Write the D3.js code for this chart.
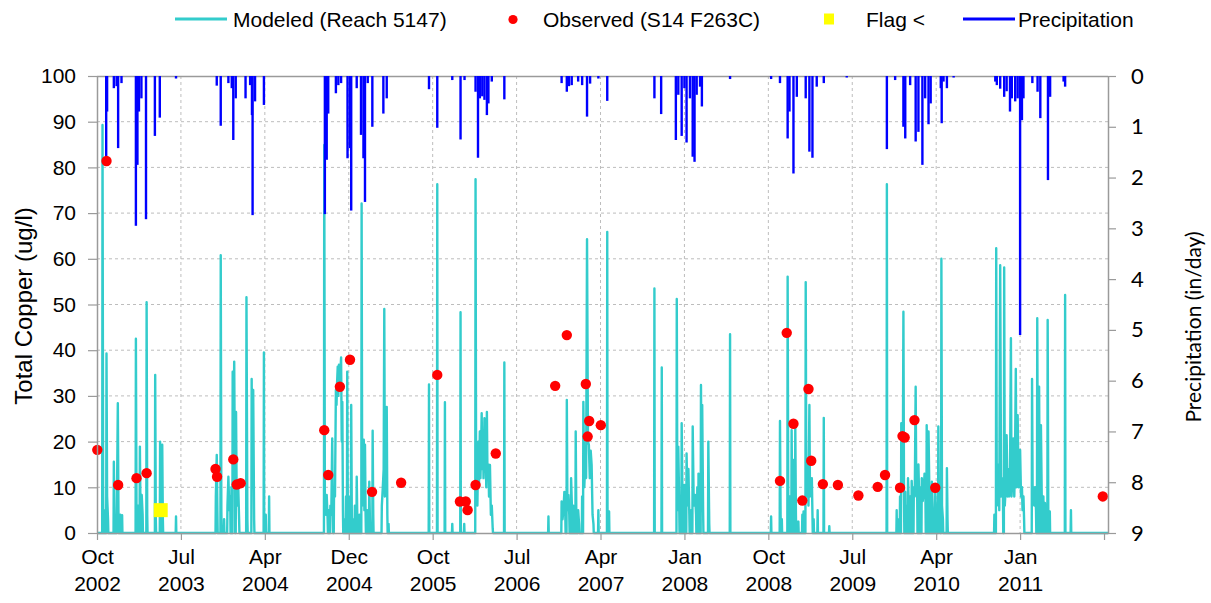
<!DOCTYPE html>
<html>
<head>
<meta charset="utf-8">
<script src="https://cdn.jsdelivr.net/npm/d3@7/dist/d3.min.js"></script>
<style>
  html, body { margin: 0; padding: 0; background: #ffffff; }
  svg text { font-family: "Liberation Sans", Arial, sans-serif; fill: #000; }
  .sec text, text.sec { font-family: Lato, "Open Sans", sans-serif; }
</style>
</head>
<body>
<svg id="chart" width="1211" height="603"></svg>
<script>
// ---- data -------------------------------------------------------------
// Modeled daily total copper (ug/l): peaks and in-between values of the storm responses
const modeled = [
  ["2002-10-19",89.3],["2002-10-21",10],["2002-10-25",5],["2002-11-01",39.3],["2002-11-03",8],["2002-11-06",3],
  ["2002-11-25",15.6],["2002-11-27",3],["2002-12-05",6],["2002-12-08",28.4],["2002-12-10",5],["2002-12-16",4],["2002-12-22",3.9],
  ["2003-02-05",42.5],["2003-02-07",5],["2003-02-12",6],["2003-02-18",18.9],["2003-02-20",5],["2003-02-24",8.3],["2003-02-27",4],
  ["2003-03-12",50.5],["2003-03-14",4],["2003-04-09",34.6],["2003-04-11",3],["2003-04-25",20],["2003-04-27",4],["2003-05-02",19.3],["2003-05-04",3],
  ["2003-06-16",3.6],
  ["2003-10-24",8],["2003-10-27",17.1],["2003-10-29",5],["2003-11-09",60.8],["2003-11-11",5],["2003-11-20",3],
  ["2003-12-01",6],["2003-12-04",12.3],["2003-12-07",5],["2003-12-10",8],["2003-12-14",10],["2003-12-18",35.3],["2003-12-20",12],
  ["2003-12-23",37.5],["2003-12-25",15],["2003-12-29",26.5],["2003-12-31",8],["2004-01-02",6],["2004-01-05",10.5],["2004-01-08",3],
  ["2004-02-01",51.6],["2004-02-04",3],["2004-02-18",33.7],["2004-02-20",10],["2004-02-23",31.3],["2004-02-26",3],
  ["2004-03-29",39.5],["2004-04-04",4],["2004-04-15",8],
  ["2004-10-12",84.9],["2004-10-14",6],["2004-10-17",4],["2004-10-20",8.3],["2004-10-23",3],["2004-10-27",5],["2004-11-01",6],["2004-11-04",4],
  ["2004-11-07",20.7],["2004-11-09",5],["2004-11-13",10],["2004-11-16",8],["2004-11-19",31.3],["2004-11-21",28],["2004-11-23",33],
  ["2004-11-25",36.4],["2004-11-27",30],["2004-11-29",36.8],["2004-12-01",32],["2004-12-03",34],["2004-12-06",38.4],["2004-12-08",20],
  ["2004-12-10",28.7],["2004-12-12",5],["2004-12-16",3],["2004-12-22",8],["2004-12-26",35.3],["2004-12-28",5],["2005-01-01",3],
  ["2005-01-04",8],["2005-01-08",28],["2005-01-10",4],["2005-01-14",3],["2005-01-20",6],["2005-01-26",12.3],["2005-01-28",3],
  ["2005-02-04",4],["2005-02-11",72.1],["2005-02-13",6],["2005-02-15",8],["2005-02-18",20.4],["2005-02-20",5],["2005-02-22",19.3],
  ["2005-02-24",4],["2005-03-01",5],["2005-03-08",11.2],["2005-03-10",3],["2005-03-19",22.4],["2005-03-21",4],
  ["2005-04-18",6],["2005-04-21",9.8],["2005-04-24",14],["2005-04-26",49],["2005-04-28",8],["2005-05-01",12],["2005-05-04",27.6],
  ["2005-05-06",4],["2005-05-10",2],
  ["2005-09-19",32.5],["2005-10-16",76.3],["2005-11-10",28.6],["2005-12-04",2],["2005-12-31",48.3],["2006-01-12",2],
  ["2006-02-18",77.4],["2006-02-20",8],["2006-02-22",15],["2006-02-24",6],["2006-02-27",20],["2006-03-01",10],["2006-03-04",22.2],
  ["2006-03-06",12],["2006-03-08",18],["2006-03-10",26.2],["2006-03-12",14],["2006-03-14",22],["2006-03-16",12],["2006-03-19",25.1],
  ["2006-03-21",14],["2006-03-23",18],["2006-03-25",10],["2006-03-27",26.5],["2006-03-29",12],["2006-04-01",15],["2006-04-03",8],
  ["2006-04-06",14.9],["2006-04-09",4],["2006-04-12",6],["2006-04-15",1],
  ["2006-05-23",37.3],["2006-10-14",3.6],
  ["2006-11-26",6.9],["2006-11-29",3],["2006-12-02",5],["2006-12-05",9],["2006-12-08",4],["2006-12-13",29.1],["2006-12-15",5],
  ["2006-12-18",8.3],["2006-12-21",4],["2006-12-27",12],["2006-12-30",5],["2007-01-03",6],["2007-01-11",22.2],["2007-01-13",4],
  ["2007-01-19",5],["2007-01-22",2],["2007-02-01",8],["2007-02-05",28.7],["2007-02-08",10],["2007-02-11",15],["2007-02-14",12],
  ["2007-02-17",64.3],["2007-02-20",20],["2007-02-23",19.3],["2007-02-26",12],["2007-03-01",18],["2007-03-04",14.9],["2007-03-07",4],
  ["2007-03-10",2],["2007-03-26",5],["2007-04-24",65.9],["2007-04-30",4.7],
  ["2007-09-25",53.5],["2007-10-19",36.2],
  ["2007-12-07",51.2],["2007-12-09",5],["2007-12-12",18.9],["2007-12-15",6],["2007-12-19",8],["2007-12-23",24],["2007-12-26",5],
  ["2008-01-01",10.5],["2008-01-04",4],["2008-01-08",17.4],["2008-01-11",6],["2008-01-14",14],["2008-01-17",4],["2008-01-23",5],
  ["2008-01-28",23.3],["2008-01-31",8],["2008-02-02",6],["2008-02-05",8.3],["2008-02-08",4],["2008-02-12",10],["2008-02-16",13],
  ["2008-02-19",6],["2008-02-24",32.4],["2008-02-26",12],["2008-02-28",28],["2008-03-02",5],["2008-03-19",20],["2008-03-22",2],
  ["2008-05-29",43.5],["2008-10-10",3.6],
  ["2008-11-08",24.5],["2008-11-10",4],["2008-11-14",3],["2008-12-03",56.1],["2008-12-05",6],["2008-12-10",8],["2008-12-16",22.5],
  ["2008-12-18",5],["2008-12-22",16],["2008-12-24",6],["2008-12-28",22.9],["2008-12-30",4],["2009-01-07",2.5],["2009-01-20",4],
  ["2009-01-24",4.7],["2009-01-31",54.9],["2009-02-02",8],["2009-02-05",10],["2009-02-07",15.6],["2009-02-09",6],["2009-02-12",28],
  ["2009-02-14",8],["2009-02-17",10],["2009-02-20",12],["2009-02-22",4],["2009-02-26",3],["2009-03-11",5],["2009-03-31",25.2],
  ["2009-04-18",1.5],
  ["2009-10-23",76.3],["2009-11-24",5],["2009-12-01",3],["2009-12-05",8],["2009-12-09",24],["2009-12-11",10],["2009-12-14",12],
  ["2009-12-16",48.4],["2009-12-18",8],["2009-12-22",9],["2009-12-26",6],["2009-12-31",12],["2010-01-03",5],["2010-01-07",8],
  ["2010-01-12",11.4],["2010-01-15",6],["2010-01-19",10],["2010-01-22",8],["2010-01-25",32],["2010-01-27",10],["2010-01-30",8],
  ["2010-02-03",15],["2010-02-06",6],["2010-02-10",10],["2010-02-14",12],["2010-02-17",7],["2010-02-20",9],["2010-02-23",13],
  ["2010-02-26",7],["2010-03-02",23.6],["2010-03-04",10],["2010-03-08",22.2],["2010-03-11",8],["2010-03-15",10],["2010-03-19",11.2],
  ["2010-03-22",5],["2010-03-26",3],["2010-03-30",9],["2010-04-02",3],["2010-04-09",23.3],["2010-04-11",5],["2010-04-14",3],
  ["2010-04-19",60],["2010-04-21",6],["2010-04-24",3],["2010-05-07",14.2],["2010-05-09",3],
  ["2010-10-09",4],["2010-10-15",62.3],["2010-10-17",6],["2010-10-20",10],["2010-10-23",15],["2010-10-25",5],["2010-10-28",58.6],
  ["2010-10-31",8],["2010-11-03",12],["2010-11-06",8],["2010-11-10",58.1],["2010-11-12",6],["2010-11-15",10],["2010-11-18",21.4],
  ["2010-11-21",8],["2010-11-23",14],["2010-11-26",8],["2010-11-29",12],["2010-12-02",42.6],["2010-12-04",8],["2010-12-07",12],
  ["2010-12-10",20.7],["2010-12-13",8],["2010-12-15",14],["2010-12-18",35.9],["2010-12-20",10],["2010-12-22",14],["2010-12-24",25.8],
  ["2010-12-27",10],["2010-12-29",12],["2011-01-01",18.2],["2011-01-04",8],["2011-01-07",10],["2011-01-09",5],["2011-01-12",8],
  ["2011-01-14",3],["2011-02-09",33.7],["2011-02-11",8],["2011-02-14",10],["2011-02-16",6],["2011-02-19",10],["2011-02-22",5],
  ["2011-02-26",47],["2011-02-28",10],["2011-03-04",32],["2011-03-06",8],["2011-03-10",23.6],["2011-03-13",6],["2011-03-18",8],
  ["2011-03-23",6.6],["2011-03-26",4],["2011-04-01",46.6],["2011-04-03",5],["2011-04-08",4.7],["2011-05-28",52.1],["2011-06-16",5]
];

// Observed total copper samples (ug/l)
const observed = [
  ["2002-10-02",18.2],["2002-11-01",81.4],["2002-12-09",10.5],["2003-02-07",12.0],["2003-03-12",13.1],
  ["2003-10-23",14.0],["2003-10-28",12.3],["2003-12-20",16.1],["2003-12-31",10.6],["2004-01-13",10.9],
  ["2004-10-12",22.5],["2004-10-25",12.7],["2004-12-02",32.0],["2005-01-04",37.9],["2005-03-17",9.0],
  ["2005-06-20",11.0],["2005-10-16",34.6],["2005-12-29",6.9],["2006-01-17",6.9],["2006-01-23",5.0],
  ["2006-02-18",10.5],["2006-04-25",17.4],["2006-11-05",32.2],["2006-12-13",43.3],["2007-02-13",32.6],
  ["2007-02-19",21.1],["2007-02-24",24.5],["2007-04-03",23.6],["2008-11-08",11.4],["2008-11-30",43.8],
  ["2008-12-22",23.9],["2009-01-20",7.1],["2009-02-09",31.5],["2009-02-18",15.8],["2009-03-28",10.7],
  ["2009-05-16",10.5],["2009-07-22",8.2],["2009-09-23",10.1],["2009-10-17",12.7],["2009-12-05",9.9],
  ["2009-12-13",21.2],["2009-12-20",20.9],["2010-01-21",24.7],["2010-03-30",9.9],["2011-09-28",8.0]
];

// Sample reported below detection limit (ug/l)
const flagged = [["2003-04-27",5.0]];

// Daily precipitation (in/day)
const precipitation = [
  ["2002-10-31",1.65],["2002-11-03",0.70],["2002-11-25",0.24],["2002-12-04",0.20],["2002-12-09",1.42],["2002-12-20",0.14],
  ["2003-02-05",2.95],["2003-02-10",1.75],["2003-02-15",0.70],["2003-02-23",0.44],["2003-03-10",2.82],["2003-04-08",1.18],
  ["2003-04-24",0.82],["2003-06-16",0.05],
  ["2003-10-27",0.19],["2003-11-09",0.98],["2003-12-04",0.14],["2003-12-15",0.24],["2003-12-20",1.26],["2003-12-28",0.44],
  ["2004-01-29",0.44],["2004-02-13",0.18],["2004-02-19",0.77],["2004-02-21",2.74],["2004-02-29",0.50],["2004-03-29",0.57],
  ["2004-10-14",2.72],["2004-10-20",1.65],["2004-10-25",0.74],["2004-11-19",0.34],["2004-11-27",0.18],["2004-12-06",0.14],
  ["2004-12-27",1.62],["2005-01-04",1.42],["2005-01-08",2.65],["2005-01-26",0.24],["2005-02-09",1.16],["2005-02-17",1.62],
  ["2005-02-22",2.48],["2005-03-03",0.14],["2005-03-18",1.00],["2005-04-23",0.74],["2005-05-04",0.44],["2005-09-19",0.26],
  ["2005-10-16",1.02],["2005-12-04",0.08],["2005-12-31",1.25],["2006-01-13",0.08],["2006-02-18",0.31],["2006-02-26",1.61],
  ["2006-03-04",0.44],["2006-03-12",0.40],["2006-03-19",0.47],["2006-03-27",0.77],["2006-04-01",0.54],["2006-04-12",0.11],
  ["2006-05-23",0.46],["2006-11-26",0.14],["2006-12-13",0.31],["2006-12-20",0.20],["2006-12-29",0.18],["2007-01-19",0.11],
  ["2007-02-01",0.18],["2007-02-17",0.80],["2007-02-27",0.15],["2007-03-26",0.05],["2007-04-24",0.49],
  ["2007-09-25",0.44],["2007-10-17",0.75],["2007-12-04",1.26],["2007-12-12",0.37],["2007-12-23",1.18],["2008-01-01",0.24],
  ["2008-01-08",1.31],["2008-01-19",0.44],["2008-01-28",1.59],["2008-02-03",1.69],["2008-02-10",0.37],["2008-02-21",0.21],
  ["2008-02-27",0.60],["2008-05-29",0.06],["2008-10-10",0.06],
  ["2008-11-08",0.14],["2008-12-03",1.23],["2008-12-09",0.70],["2008-12-22",1.92],["2009-01-02",0.41],["2009-01-31",0.44],
  ["2009-02-12",1.49],["2009-02-22",1.61],["2009-03-08",0.21],["2009-03-31",0.14],["2009-06-14",0.03],
  ["2009-10-23",1.44],["2009-11-19",0.08],["2009-12-16",1.00],["2009-12-22",1.23],["2010-01-07",0.18],["2010-01-25",1.29],
  ["2010-02-03",1.10],["2010-02-16",1.75],["2010-02-25",0.44],["2010-03-08",0.95],["2010-03-15",0.54],["2010-04-17",0.24],
  ["2010-04-20",0.93],["2010-04-26",0.11],["2010-05-07",0.24],["2010-05-29",0.03],
  ["2010-10-12",0.11],["2010-10-17",0.18],["2010-10-28",0.25],["2010-11-10",0.41],["2010-11-18",0.30],["2010-11-29",0.70],
  ["2010-12-05",0.44],["2010-12-16",0.50],["2010-12-24",0.44],["2011-01-01",5.10],["2011-01-07",0.87],["2011-01-12",0.44],
  ["2011-02-10",0.14],["2011-02-27",0.31],["2011-03-08",0.83],["2011-04-02",2.05],["2011-04-09",0.41],["2011-05-23",0.11],
  ["2011-05-28",0.21]
];

// Axes
const dateDomain = ["2002-10-01","2011-10-15"];
const xTickDates = ["2002-10-01","2003-07-02","2004-04-01","2004-12-31","2005-10-01","2006-07-02",
                    "2007-04-02","2008-01-01","2008-10-01","2009-07-02","2010-04-02","2011-01-01","2011-10-02"];
const xTickLabels = ["Oct|2002","Jul|2003","Apr|2004","Dec|2004","Oct|2005","Jul|2006",
                     "Apr|2007","Jan|2008","Oct|2008","Jul|2009","Apr|2010","Jan|2011",""];
const copperTicks = [0,10,20,30,40,50,60,70,80,90,100];
const precipTicks = [0,1,2,3,4,5,6,7,8,9];

const legendItems = ["Modeled (Reach 5147)","Observed (S14 F263C)","Flag <","Precipitation"];

// ---- drawing ----------------------------------------------------------
const COLORS = { modeled: "#33CCCC", observed: "#FF0000", flag: "#FFFF00", precip: "#0000FF", axis: "#9A9A9A", grid: "#BDBDBD" };
const parse = d3.utcParse("%Y-%m-%d");
const DAY = 864e5;

const plot = { left: 97, right: 1108, top: 76, bottom: 533 };
const svg = d3.select("#chart");

const x = d3.scaleUtc().domain(dateDomain.map(parse)).range([plot.left, plot.right]);
const y = d3.scaleLinear().domain([0, 100]).range([plot.bottom, plot.top]);
const y2 = d3.scaleLinear().domain([0, 9]).range([plot.top, plot.bottom]);

// grid
const grid = svg.append("g");
grid.selectAll("line.h").data(copperTicks.filter(v => v > 0 && v < 100)).join("line")
  .attr("x1", plot.left).attr("x2", plot.right)
  .attr("y1", d => y(d)).attr("y2", d => y(d))
  .attr("stroke", COLORS.grid).attr("stroke-width", 1).attr("stroke-dasharray", "3,3");
grid.selectAll("line.v").data(xTickDates.slice(1, -1).map(parse)).join("line")
  .attr("x1", d => x(d)).attr("x2", d => x(d))
  .attr("y1", plot.top).attr("y2", plot.bottom)
  .attr("stroke", COLORS.grid).attr("stroke-width", 1).attr("stroke-dasharray", "3,3");

// top frame line
svg.append("line").attr("x1", plot.left).attr("x2", plot.right)
  .attr("y1", plot.top + 0.5).attr("y2", plot.top + 0.5)
  .attr("stroke", COLORS.axis).attr("stroke-width", 1.5);

// modeled daily series: peaks with the baseline in between
function dailyLine(points) {
  const pts = points.map(([d, v]) => [parse(d).getTime(), v]).sort((a, b) => a[0] - b[0]);
  const start = x.domain()[0].getTime(), end = x.domain()[1].getTime();
  const out = [[start, 0]];
  pts.forEach((p, i) => {
    const prev = pts[i - 1], next = pts[i + 1];
    if (!prev || p[0] - prev[0] > 3 * DAY) out.push([p[0] - DAY, 0]);
    out.push(p);
    if (!next || next[0] - p[0] > 3 * DAY) out.push([p[0] + DAY, 0]);
  });
  out.push([end, 0]);
  return out;
}
const line = d3.line().x(d => x(new Date(d[0]))).y(d => y(d[1]));
svg.append("path").datum(dailyLine(modeled))
  .attr("d", line).attr("fill", "none")
  .attr("stroke", COLORS.modeled).attr("stroke-width", 2.4)
  .attr("stroke-linejoin", "round");

// precipitation hanging from the top (secondary, reversed axis)
svg.append("g").selectAll("line").data(precipitation).join("line")
  .attr("x1", d => x(parse(d[0]))).attr("x2", d => x(parse(d[0])))
  .attr("y1", y2(0)).attr("y2", d => y2(d[1]))
  .attr("stroke", COLORS.precip).attr("stroke-width", 2.4);

// observed samples
svg.append("g").selectAll("circle").data(observed).join("circle")
  .attr("cx", d => x(parse(d[0]))).attr("cy", d => y(d[1])).attr("r", 5.2)
  .attr("fill", COLORS.observed);

// flagged samples
svg.append("g").selectAll("rect").data(flagged).join("rect")
  .attr("x", d => x(parse(d[0])) - 7).attr("y", d => y(d[1]) - 7)
  .attr("width", 14).attr("height", 14).attr("fill", COLORS.flag);

// axes
function styleAxis(g) {
  g.select(".domain").attr("stroke", COLORS.axis).attr("stroke-width", 1.5);
  g.selectAll(".tick line").attr("stroke", COLORS.axis).attr("stroke-width", 1.2);
}
const yAxis = svg.append("g").attr("transform", `translate(${plot.left},0)`)
  .call(d3.axisLeft(y).tickValues(copperTicks).tickSize(9).tickSizeOuter(0).tickPadding(12));
styleAxis(yAxis);
yAxis.selectAll("text").attr("font-size", 21).attr("font-family", "'Liberation Sans', Arial, sans-serif").attr("fill", "#000");

const y2Axis = svg.append("g").attr("class", "sec").attr("transform", `translate(${plot.right},0)`)
  .call(d3.axisRight(y2).tickValues(precipTicks).tickSize(8).tickSizeOuter(0).tickPadding(15));
styleAxis(y2Axis);
y2Axis.selectAll("text").attr("font-size", 22).attr("fill", "#000");

const xAxis = svg.append("g").attr("transform", `translate(0,${plot.bottom})`)
  .call(d3.axisBottom(x).tickValues(xTickDates.map(parse)).tickSize(7).tickSizeOuter(0).tickFormat(() => ""));
styleAxis(xAxis);
xAxis.selectAll(".tick").each(function (d, i) {
  const parts = xTickLabels[i] ? xTickLabels[i].split("|") : [];
  const t = d3.select(this).append("text").attr("fill", "#000").attr("font-size", 21)
    .attr("text-anchor", "middle");
  parts.forEach((p, k) => t.append("tspan").attr("x", 0).attr("y", 31 + k * 27).text(p));
});

// axis titles
svg.append("text").attr("transform", "translate(32,306) rotate(-90)")
  .attr("text-anchor", "middle").attr("font-size", 24).text("Total Copper (ug/l)");
svg.append("text").attr("class", "sec").attr("transform", "translate(1201,327) rotate(-90)")
  .attr("text-anchor", "middle").attr("font-size", 21).text("Precipitation (in/day)");

// legend
const lg = svg.append("g").attr("font-size", 21);
const ly = 19;
lg.append("line").attr("x1", 175).attr("x2", 227).attr("y1", ly).attr("y2", ly)
  .attr("stroke", COLORS.modeled).attr("stroke-width", 3);
lg.append("text").attr("x", 233).attr("y", ly + 7.5).text(legendItems[0]);
lg.append("circle").attr("cx", 513).attr("cy", ly + 0.5).attr("r", 4.6).attr("fill", COLORS.observed);
lg.append("text").attr("x", 543).attr("y", ly + 7.5).text(legendItems[1]);
lg.append("rect").attr("x", 824).attr("y", ly - 5.5).attr("width", 10).attr("height", 11).attr("fill", COLORS.flag);
lg.append("text").attr("x", 866).attr("y", ly + 7.5).text(legendItems[2]);
lg.append("line").attr("x1", 963).attr("x2", 1015).attr("y1", ly).attr("y2", ly)
  .attr("stroke", COLORS.precip).attr("stroke-width", 3);
lg.append("text").attr("x", 1018).attr("y", ly + 7.5).text(legendItems[3]);
</script>
</body>
</html>
